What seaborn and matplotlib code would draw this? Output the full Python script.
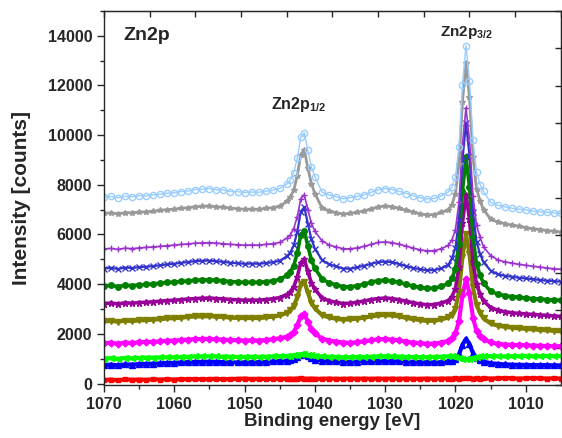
import numpy as np
import pandas as pd
import matplotlib
matplotlib.use("Agg")
import matplotlib.pyplot as plt
import seaborn as sns

# Binding energy grid [eV] (denser around the two Zn2p peaks)
energy = [1070, 1069, 1068, 1067, 1066, 1065, 1064, 1063, 1062, 1061, 1060, 1059, 1058,
          1057, 1056, 1055, 1054, 1053, 1052, 1051, 1050, 1049, 1048, 1047, 1046, 1045,
          1044, 1043.5, 1043, 1042.5, 1042, 1041.5, 1041, 1040.5, 1040,
          1039, 1038, 1037, 1036, 1035, 1034, 1033, 1032, 1031, 1030, 1029, 1028, 1027,
          1026, 1025, 1024, 1023, 1022, 1021,
          1020.5, 1020, 1019.5, 1019, 1018.5, 1018, 1017.5, 1017, 1016.5,
          1016, 1015, 1014, 1013, 1012, 1011, 1010, 1009, 1008, 1007, 1006, 1005]

# Intensity [counts], bottom trace to top trace
red = [140, 160, 130, 170, 150, 160, 150, 170, 160, 170, 160, 180, 170, 180, 170, 180, 190, 170, 180, 190, 200, 180, 190, 180, 190, 190,
       190, 200, 190, 200, 210, 200, 190, 200, 190,
       190, 200, 190, 190, 200, 190, 200, 190, 200, 190, 200, 190, 200, 190, 190, 200, 190, 200, 200,
       200, 210, 200, 210, 220, 210, 200, 210, 200,
       210, 200, 210, 220, 210, 200, 210, 220, 210, 200, 210, 200]
blue = [740, 760, 730, 770, 760, 780, 790, 800, 810, 830, 830, 850, 860, 870, 870, 880, 870, 860, 850, 850, 850, 860, 860, 870, 890, 910,
        920, 950, 990, 1060, 1160, 1180, 1100, 1010, 960,
        920, 900, 890, 880, 870, 880, 890, 900, 910, 910, 900, 890, 880, 870, 860, 850, 850, 860, 890,
        920, 990, 1170, 1560, 1800, 1590, 1220, 1020, 940,
        880, 820, 790, 770, 760, 750, 750, 740, 740, 740, 730, 730]
lime = [1000, 1020, 990, 1030, 1010, 1030, 1040, 1040, 1050, 1060, 1060, 1070, 1080, 1090, 1090, 1100, 1090, 1080, 1080, 1070, 1070, 1080, 1070, 1080, 1090, 1100,
        1110, 1120, 1130, 1150, 1170, 1170, 1150, 1130, 1110,
        1090, 1080, 1070, 1060, 1060, 1070, 1070, 1080, 1090, 1090, 1090, 1080, 1070, 1070, 1060, 1060, 1070, 1080, 1090,
        1090, 1080, 1040, 1000, 980, 990, 1030, 1070, 1090,
        1100, 1100, 1100, 1090, 1100, 1100, 1110, 1100, 1100, 1110, 1100, 1100]
magenta = [1620, 1640, 1600, 1650, 1630, 1660, 1670, 1680, 1700, 1720, 1730, 1750, 1770, 1790, 1790, 1800, 1780, 1770, 1750, 1740, 1730, 1740, 1730, 1750, 1780, 1820,
           1880, 1950, 2090, 2340, 2720, 2800, 2480, 2190, 2020,
           1810, 1730, 1690, 1650, 1640, 1660, 1700, 1740, 1780, 1790, 1770, 1740, 1690, 1650, 1620, 1600, 1610, 1650, 1720,
           1830, 2020, 2510, 3550, 4200, 3630, 2640, 2120, 1910,
           1780, 1660, 1600, 1570, 1560, 1550, 1540, 1530, 1520, 1510, 1500, 1500]
olive = [2500, 2520, 2490, 2530, 2510, 2540, 2550, 2570, 2590, 2620, 2630, 2650, 2680, 2700, 2700, 2710, 2690, 2680, 2650, 2640, 2630, 2640, 2630, 2660, 2690, 2740,
         2840, 2940, 3120, 3470, 3990, 4100, 3660, 3260, 3030,
         2760, 2660, 2610, 2570, 2580, 2610, 2650, 2700, 2740, 2760, 2740, 2700, 2640, 2590, 2550, 2520, 2530, 2580, 2660,
         2770, 3020, 3690, 5110, 6000, 5220, 3870, 3160, 2850,
         2620, 2420, 2330, 2280, 2250, 2220, 2200, 2180, 2160, 2140, 2120, 2100]
purple = [3220, 3240, 3200, 3250, 3230, 3260, 3270, 3290, 3310, 3340, 3350, 3380, 3400, 3420, 3430, 3440, 3420, 3410, 3380, 3370, 3350, 3360, 3350, 3380, 3410, 3460,
          3580, 3690, 3890, 4290, 4870, 5000, 4510, 4060, 3800,
          3450, 3330, 3270, 3220, 3230, 3270, 3320, 3380, 3420, 3440, 3420, 3370, 3310, 3250, 3200, 3170, 3180, 3240, 3340,
          3500, 3820, 4680, 6480, 7600, 6610, 4900, 4000, 3600,
          3320, 3060, 2950, 2890, 2850, 2820, 2800, 2780, 2760, 2740, 2720, 2700]
green = [3930, 3950, 3900, 3960, 3940, 3970, 3990, 4010, 4040, 4070, 4080, 4110, 4130, 4160, 4170, 4180, 4150, 4140, 4100, 4090, 4070, 4080, 4070, 4100, 4130, 4190,
         4350, 4490, 4750, 5250, 5990, 6150, 5540, 4980, 4640,
         4220, 4050, 3980, 3900, 3890, 3940, 4000, 4080, 4140, 4160, 4130, 4070, 3990, 3920, 3870, 3830, 3840, 3910, 4030,
         4230, 4610, 5620, 7760, 9100, 7920, 5890, 4820, 4360,
         4030, 3720, 3600, 3540, 3500, 3470, 3440, 3420, 3400, 3380, 3360, 3350]
navy = [4630, 4660, 4610, 4670, 4650, 4690, 4700, 4730, 4760, 4800, 4820, 4860, 4890, 4930, 4940, 4950, 4920, 4900, 4860, 4840, 4820, 4830, 4820, 4850, 4880, 4940,
        5120, 5270, 5560, 6110, 6920, 7100, 6440, 5820, 5430,
        4980, 4800, 4720, 4630, 4620, 4680, 4740, 4820, 4890, 4910, 4880, 4810, 4730, 4650, 4600, 4560, 4570, 4640, 4780,
        5040, 5460, 6600, 9000, 10500, 9180, 6900, 5700, 5220,
        4880, 4550, 4400, 4340, 4300, 4260, 4230, 4200, 4170, 4140, 4120, 4100]
violet = [5420, 5440, 5400, 5450, 5430, 5460, 5480, 5500, 5520, 5550, 5570, 5600, 5620, 5650, 5660, 5670, 5650, 5630, 5600, 5590, 5570, 5580, 5570, 5600, 5630, 5680,
          5850, 5980, 6240, 6720, 7440, 7600, 7000, 6460, 6130,
          5750, 5580, 5500, 5430, 5420, 5460, 5520, 5600, 5680, 5700, 5670, 5610, 5530, 5450, 5380, 5340, 5350, 5430, 5560,
          5780, 6190, 7300, 9640, 11100, 9800, 7540, 6370, 5900,
          5500, 5150, 4980, 4900, 4850, 4800, 4760, 4720, 4690, 4650, 4620, 4600]
gray = [6850, 6870, 6830, 6880, 6870, 6900, 6910, 6930, 6970, 7000, 7020, 7050, 7080, 7120, 7130, 7150, 7110, 7100, 7060, 7040, 7010, 7020, 7010, 7050, 7080, 7140,
        7330, 7490, 7790, 8360, 9220, 9400, 8690, 8050, 7650,
        7080, 6950, 6880, 6820, 6850, 6890, 6950, 7030, 7110, 7150, 7120, 7050, 6970, 6900, 6830, 6790, 6800, 6890, 7000,
        7200, 7650, 8840, 11340, 12900, 11520, 9100, 7850, 7350,
        7000, 6620, 6500, 6440, 6380, 6330, 6280, 6230, 6200, 6160, 6130, 6100]
lightblue = [7500, 7530, 7480, 7540, 7520, 7560, 7550, 7600, 7620, 7660, 7680, 7730, 7750, 7810, 7820, 7850, 7800, 7790, 7730, 7720, 7690, 7710, 7700, 7740, 7790, 7860,
             8030, 8190, 8490, 9065, 9916, 10100, 9390, 8730, 8325,
             7720, 7590, 7520, 7440, 7480, 7530, 7600, 7700, 7800, 7850, 7810, 7740, 7650, 7560, 7480, 7430, 7450, 7560, 7715,
             7900, 8330, 9515, 12025, 13600, 12190, 9790, 8520, 8010,
             7740, 7300, 7180, 7120, 7060, 7020, 6990, 6940, 6910, 6900, 6870, 6850]

series = {"red": red, "blue": blue, "lime": lime, "magenta": magenta, "olive": olive,
          "purple": purple, "green": green, "navy": navy, "violet": violet,
          "gray": gray, "lightblue": lightblue}

# colour, marker, marker face, marker size, line width
styles = {
    "red":       ("#FF0000", "s", "full", 3.5, 3.0),
    "blue":      ("#0000FF", "^", "full", 4, 3.0),
    "lime":      ("#00FF00", "<", "full", 4, 3.0),
    "magenta":   ("#FF00FF", "D", "full", 3.5, 3.0),
    "olive":     ("#808000", "v", "full", 4, 3.0),
    "purple":    ("#990099", "*", "full", 5, 2.6),
    "green":     ("#008000", "o", "full", 4, 2.6),
    "navy":      ("#3333CC", "x", "full", 4, 1.6),
    "violet":    ("#9933CC", "+", "full", 5, 1.2),
    "gray":      ("#999999", "*", "full", 4, 2.0),
    "lightblue": ("#99CCFF", "o", "none", 4.5, 1.0),
}

df = pd.DataFrame([(name, e, v) for name, vals in series.items() for e, v in zip(energy, vals)],
                  columns=["series", "energy", "counts"])

sns.set_style("ticks")
plt.rcParams["font.family"] = ["Liberation Sans", "DejaVu Sans"]
plt.rcParams["mathtext.fontset"] = "custom"
plt.rcParams["mathtext.bf"] = "Liberation Sans:bold"
plt.rcParams["mathtext.rm"] = "Liberation Sans:bold"

fig = plt.figure(figsize=(5.62, 4.38), dpi=100)
ax = fig.add_axes([0.185, 0.121, 0.813, 0.854])

for name in series:
    color, marker, fill, ms, lw = styles[name]
    sub = df[df["series"] == name]
    sns.lineplot(data=sub, x="energy", y="counts", ax=ax, color=color, sort=False,
                 marker=marker, markersize=ms, linewidth=lw,
                 markerfacecolor=color if fill == "full" else "none",
                 markeredgecolor=color, markeredgewidth=1.0, legend=False)

ax.set_xlim(1070, 1005)
ax.set_ylim(-60, 15000)
ax.set_xticks([1070, 1060, 1050, 1040, 1030, 1020, 1010])
ax.set_xticks(np.arange(1065, 1005, -10), minor=True)
ax.set_yticks(np.arange(0, 14001, 2000))
ax.set_yticks(np.arange(1000, 15001, 2000), minor=True)
ax.tick_params(axis="both", which="major", direction="out", length=5, width=1)
ax.tick_params(axis="both", which="minor", direction="out", length=3, width=1)
ax.tick_params(axis="y", labelsize=11.5)
ax.tick_params(axis="x", labelsize=11.5)
for lab in ax.get_xticklabels() + ax.get_yticklabels():
    lab.set_fontweight("bold")

# top and right axes: ten equal divisions, ticks inward, no labels
top = ax.secondary_xaxis("top")
top.set_xticks(np.linspace(1070, 1005, 11))
top.tick_params(direction="in", length=4, width=1, labeltop=False)
right = ax.secondary_yaxis("right")
right.set_yticks(np.linspace(-60, 15000, 11))
right.tick_params(direction="in", length=4, width=1, labelright=False)

for sp in ax.spines.values():
    sp.set_linewidth(1.0)

ax.set_xlabel("Binding energy [eV]", fontsize=13.5, fontweight="bold", labelpad=1)
ax.set_ylabel("Intensity [counts]", fontsize=15, fontweight="bold", labelpad=12)

ax.text(1067.3, 14000, "Zn2p", fontsize=14, fontweight="bold", va="center")
ax.text(1042.3, 11250, r"Zn2p$_{\mathbf{1/2}}$", fontsize=11.5, fontweight="bold",
        ha="center", va="center")
ax.text(1018.4, 14150, r"Zn2p$_{\mathbf{3/2}}$", fontsize=11, fontweight="bold",
        ha="center", va="center")

fig.savefig("out.png", dpi=100)
